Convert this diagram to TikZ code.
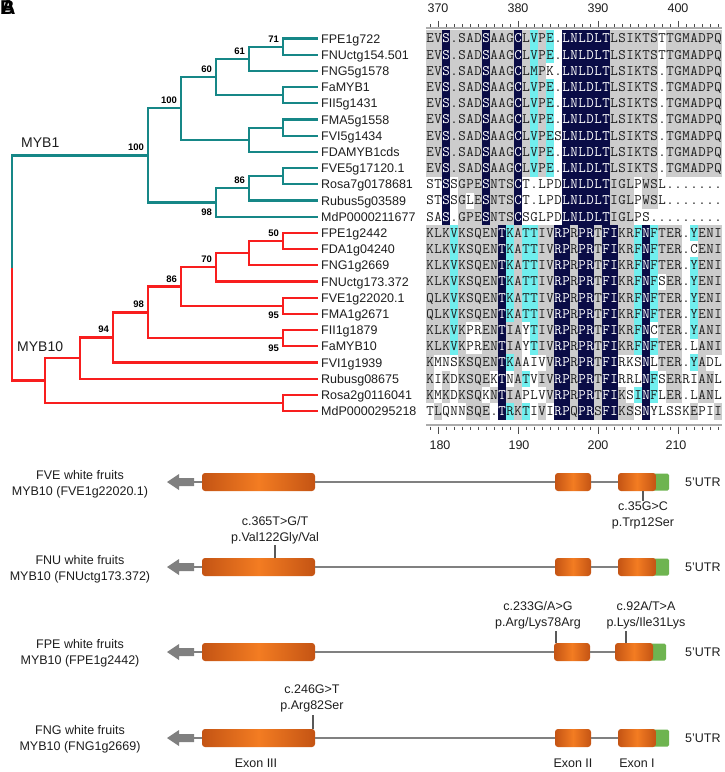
\documentclass[tikz,border=0pt]{standalone}
\usepackage{fontspec}
\setmainfont{Liberation Sans}
\definecolor{tealc}{RGB}{22,135,135}
\definecolor{redc}{RGB}{248,30,30}
\definecolor{navyc}{RGB}{10,12,70}
\definecolor{cyanc}{RGB}{112,238,238}
\definecolor{grayc}{RGB}{204,204,204}
\definecolor{exdark}{RGB}{196,84,20}
\definecolor{exmid}{RGB}{243,124,34}
\definecolor{utrc}{RGB}{110,180,80}
\definecolor{linec}{RGB}{128,128,128}
\definecolor{txtc}{RGB}{30,30,30}
\tikzset{
  cellg/.style={fill=grayc}, celln/.style={fill=navyc}, cellc/.style={fill=cyanc}, cellw/.style={},
  txtg/.style={text=txtc}, txtn/.style={text=white}, txtc/.style={text=txtc}, txtw/.style={text=txtc},
  alnfont/.style={font=\ttfamily\fontsize{14.5}{14.5}\selectfont},
  leaf/.style={anchor=west, inner xsep=3pt, inner ysep=0pt, text height=9pt, text depth=0pt,
    font=\fontsize{12.5}{12.5}\selectfont, text=txtc},
  bs/.style={font=\bfseries\fontsize{9.5}{9.5}\selectfont, inner sep=0.3pt, text height=6.8pt, text depth=0pt},
  tb/.style={draw=tealc, line width=2.2pt},
  rb/.style={draw=redc, line width=2.2pt},
  ruler/.style={draw=gray!65, line width=2pt},
  tick/.style={draw=black!70, line width=0.6pt},
  rnum/.style={font=\fontsize{12.5}{12.5}\selectfont, text=txtc, inner sep=0pt},
  exon/.style={rounded corners=3pt, left color=exdark, right color=exdark, middle color=exmid,
    minimum height=18pt, inner sep=0pt},
  utr/.style={fill=utrc, rounded corners=1.5pt, minimum height=17pt, minimum width=19pt, inner sep=0pt},
  intron/.style={draw=linec, line width=2pt},
  mut/.style={draw=black!65, line width=1.2pt},
  gtxt/.style={font=\fontsize{12.5}{16}\selectfont, align=center, text=txtc, inner sep=1pt},
  utrtxt/.style={font=\fontsize{12.5}{12.5}\selectfont, anchor=west, text=txtc, inner sep=0pt},
  panel/.style={font=\bfseries\fontsize{20}{20}\selectfont, anchor=north west, inner sep=0pt},
}
\newcommand\alncell[5]{%
  \path[cell#5] ({418+8*#3},{#2-8.1}) rectangle ++(8.3,16.5);%
  \node[txt#5, alnfont, anchor=base, inner sep=0pt] (s-#1-#3) at ({422+8*#3},{#2+4.4}) {#4};%
}
\ExplSyntaxOn
\NewDocumentCommand\alnrow{mmmm}
 {
  \int_step_inline:nn {37}
   {
    \use:e {\exp_not:N \alncell {#1} {#2} {##1} {\str_item:nn {#3} {##1}} {\str_item:nn {#4} {##1}}}
   }
 }
\ExplSyntaxOff
\begin{document}
\begin{tikzpicture}[x=1pt,y=-1pt]
\useasboundingbox (0,0) rectangle (725,772);
\fill[white] (0,0) rectangle (725,772);

% panel letters
\node[panel] (pA) at (1,0.5) {A};
\node[panel] (pB) at (0,0.5) {B};

% ---------------- alignment ----------------
\alnrow{r0}{38.5}{EVS.SADSAAGCLVPE.LNLDLTLSIKTSTTGMADPQ}{ggnggggngggngcgcwnnnnnnggggggwggggggg}
\alnrow{r1}{54.7}{EVS.SADSAAGCLVPE.LNLDLTLSIKTSTTGMADPQ}{ggnggggngggngcgcwnnnnnnggggggwggggggg}
\alnrow{r2}{70.9}{EVS.SADSAAGCLMPK.LNLDLTLSIKTS.TGMADPQ}{ggnggggngggngcgwwnnnnnnggggggwggggggg}
\alnrow{r3}{87.1}{EVS.SADSAAGCLVPE.LNLDLTLSIKTS.TGMADPQ}{ggnggggngggngcgcwnnnnnnggggggwggggggg}
\alnrow{r4}{103.3}{EVS.SADSAAGCLVPE.LNLDLTLSIKTS.TGMADPQ}{ggnggggngggngcgcwnnnnnnggggggwggggggg}
\alnrow{r5}{119.5}{EVS.SADSAAGCLVPE.LNLDLTLSIKTS.TGMADPQ}{ggnggggngggngcgcwnnnnnnggggggwggggggg}
\alnrow{r6}{135.7}{EVS.SADSAAGCLVPESLNLDLTLSIKTS.TGMADPQ}{ggnggggngggngcgcwnnnnnnggggggwggggggg}
\alnrow{r7}{151.9}{EVS.SADSAAGCLVPE.LNLDLTLSIKTS.TGMADPQ}{ggnggggngggngcgcwnnnnnnggggggwggggggg}
\alnrow{r8}{168.1}{EVS.SADSAAGCLVPE.LNLDLTLSIKTS.TGMADPQ}{ggnggggngggngcgcwnnnnnnggggggwggggggg}
\alnrow{r9}{184.3}{STSSGPESNTSCT.LPDLNLDLTIGLPWSL.......}{wwnwgggngggnwwwwwnnnnnngggwggwwwwwwww}
\alnrow{r10}{200.5}{STSSGLESNTSCT.LPDLNLDLTIGLPWSL.......}{wwnwgwgngggnwwwwwnnnnnngggwggwwwwwwww}
\alnrow{r11}{216.7}{SAS.GPESNTSCSGLPDLNLDLTIGLPS.........}{wwnwgggngggnwwwwwnnnnnngggwwwwwwwwwww}
\alnrow{r12}{232.9}{KLKVKSQENTKATTIVRPRPRTFIKRFNFTER.YENI}{gggcgggggncgccggnngnngnnggcncgggwcggg}
\alnrow{r13}{249.1}{KLKVKSQENTKATTIVRPRPRTFIKRFNFTER.CENI}{gggcgggggncgccggnngnngnnggcncgggwwggg}
\alnrow{r14}{265.3}{KLKVKSQENTKATTIVRPRPRTFIKRFNFTER.YENI}{gggcgggggncgccggnngnngnnggcncgggwcggg}
\alnrow{r15}{281.5}{KLKVKSQENTKATTIVRPRPRTFIKRFNFSER.YENI}{gggcgggggncgccggnngnngnnggcncwggwcggg}
\alnrow{r16}{297.7}{QLKVKSQENTKATTIVRPRPRTFIKRFNFTER.YENI}{gggcgggggncgccggnngnngnnggcncgggwcggg}
\alnrow{r17}{313.9}{QLKVKSQENTKATTIVRPRPRTFIKRFNFTER.YENI}{gggcgggggncgccggnngnngnnggcncgggwcggg}
\alnrow{r18}{330.1}{KLKVKPRENTIAYTIVRPRPRTFIKRFNCTER.YANI}{gggcgwwggnggwcggnngnngnnggcnwgggwcggg}
\alnrow{r19}{346.3}{KLKVKPRENTIAYTIVRPRPRTFIKRFNFTER.LANI}{gggcgwwggnggwcggnngnngnnggcncgggwwggg}
\alnrow{r20}{362.5}{KMNSKSQENTKAAIVVRPRPRTFIRKSNLTER.YADL}{gwwwgggggncgwwwgnngnngnnwwwnwgggwcgww}
\alnrow{r21}{378.7}{KIKDKSQEKTNATVIVRPRPRTFIRRLNFSERRIANL}{gwgwggggwnwgcwggnngnngnnwwwncwggwwggw}
\alnrow{r22}{394.9}{KMKDKSQKNTIAPLVVRPRPRTFIKSINFLER.LANL}{gwgwgggwgnggwwwgnngnngnngwcncwggwwggw}
\alnrow{r23}{411.1}{TLQNNSQE.TRKTIVIRPQPRSFIKSSNYLSSKEPII}{wgwwwgggwncgcwgwnngnngnnggwnwwwwwgwwg}

% rulers
\draw[ruler] (426,28) -- (722,28);
\draw[ruler] (426,425) -- (722,425);
\foreach \i in {0,...,36} {
  \draw[tick] ({430+8*\i},24) -- ({430+8*\i},26.8);
  \draw[tick] ({430+8*\i},426.5) -- ({430+8*\i},430);
}
\foreach \i in {1,11,21,31} {
  \draw[tick] ({430+8*\i},20.5) -- ({430+8*\i},26.8);
  \draw[tick] ({430+8*\i},426.5) -- ({430+8*\i},434);
}
\node[rnum] (t370) at (438,8) {370};
\node[rnum] (t380) at (518,8) {380};
\node[rnum] (t390) at (598,8) {390};
\node[rnum] (t400) at (678,8) {400};
\node[rnum] (b180) at (440,445) {180};
\node[rnum] (b190) at (519,445) {190};
\node[rnum] (b200) at (598,445) {200};
\node[rnum] (b210) at (676,445) {210};

% ---------------- tree ----------------
\node[leaf] (l0) at (318,38.5) {FPE1g722};
\node[leaf] (l1) at (318,54.7) {FNUctg154.501};
\node[leaf] (l2) at (318,70.9) {FNG5g1578};
\node[leaf] (l3) at (318,87.1) {FaMYB1};
\node[leaf] (l4) at (318,103.3) {FII5g1431};
\node[leaf] (l5) at (318,119.5) {FMA5g1558};
\node[leaf] (l6) at (318,135.7) {FVI5g1434};
\node[leaf] (l7) at (318,151.9) {FDAMYB1cds};
\node[leaf] (l8) at (318,168.1) {FVE5g17120.1};
\node[leaf] (l9) at (318,184.3) {Rosa7g0178681};
\node[leaf] (l10) at (318,200.5) {Rubus5g03589};
\node[leaf] (l11) at (318,216.7) {MdP0000211677};
\node[leaf] (l12) at (318,232.9) {FPE1g2442};
\node[leaf] (l13) at (318,249.1) {FDA1g04240};
\node[leaf] (l14) at (318,265.3) {FNG1g2669};
\node[leaf] (l15) at (318,281.5) {FNUctg173.372};
\node[leaf] (l16) at (318,297.7) {FVE1g22020.1};
\node[leaf] (l17) at (318,313.9) {FMA1g2671};
\node[leaf] (l18) at (318,330.1) {FII1g1879};
\node[leaf] (l19) at (318,346.3) {FaMYB10};
\node[leaf] (l20) at (318,362.5) {FVI1g1939};
\node[leaf] (l21) at (318,378.7) {Rubusg08675};
\node[leaf] (l22) at (318,394.9) {Rosa2g0116041};
\node[leaf] (l23) at (318,411.1) {MdP0000295218};

\coordinate (n71) at (283,46.6);
\coordinate (n61) at (249,58.75);
\coordinate (nA) at (283,95.2);
\coordinate (n60) at (216,76.98);
\coordinate (nB) at (283,127.6);
\coordinate (nC) at (249,139.75);
\coordinate (n100i) at (181,108.36);
\coordinate (nD) at (283,176.2);
\coordinate (n86a) at (249,188.35);
\coordinate (n98a) at (216,202.5);
\coordinate (n100o) at (148,155.4);
\coordinate (n50) at (283,241);
\coordinate (nE) at (249,253.15);
\coordinate (n70) at (216,267.3);
\coordinate (n95a) at (283,305.8);
\coordinate (n86b) at (181,286.55);
\coordinate (n95b) at (283,338.2);
\coordinate (n98b) at (148,312.4);
\coordinate (n94) at (113,337.45);
\coordinate (nF) at (80,358.1);
\coordinate (nG) at (283,403);
\coordinate (nH) at (45,380.55);
\coordinate (root) at (12,268);

% MYB1 (teal)
\draw[tb] (n71) |- (l0.west);  \draw[tb] (n71) |- (l1.west);
\draw[tb] (n61) |- (n71);      \draw[tb] (n61) |- (l2.west);
\draw[tb] (nA) |- (l3.west);   \draw[tb] (nA) |- (l4.west);
\draw[tb] (n60) |- (n61);      \draw[tb] (n60) |- (nA);
\draw[tb] (nB) |- (l5.west);   \draw[tb] (nB) |- (l6.west);
\draw[tb] (nC) |- (nB);        \draw[tb] (nC) |- (l7.west);
\draw[tb] (n100i) |- (n60);    \draw[tb] (n100i) |- (nC);
\draw[tb] (nD) |- (l8.west);   \draw[tb] (nD) |- (l9.west);
\draw[tb] (n86a) |- (nD);      \draw[tb] (n86a) |- (l10.west);
\draw[tb] (n98a) |- (n86a);    \draw[tb] (n98a) |- (l11.west);
\draw[tb] (n100o) |- (n100i);  \draw[tb] (n100o) |- (n98a);
\draw[tb] (root) |- (n100o);
% MYB10 (red)
\draw[rb] (n50) |- (l12.west); \draw[rb] (n50) |- (l13.west);
\draw[rb] (nE) |- (n50);       \draw[rb] (nE) |- (l14.west);
\draw[rb] (n70) |- (nE);       \draw[rb] (n70) |- (l15.west);
\draw[rb] (n95a) |- (l16.west);\draw[rb] (n95a) |- (l17.west);
\draw[rb] (n86b) |- (n70);     \draw[rb] (n86b) |- (n95a);
\draw[rb] (n95b) |- (l18.west);\draw[rb] (n95b) |- (l19.west);
\draw[rb] (n98b) |- (n86b);    \draw[rb] (n98b) |- (n95b);
\draw[rb] (n94) |- (n98b);     \draw[rb] (n94) |- (l20.west);
\draw[rb] (nF) |- (n94);       \draw[rb] (nF) |- (l21.west);
\draw[rb] (nG) |- (l22.west);  \draw[rb] (nG) |- (l23.west);
\draw[rb] (nH) |- (nF);        \draw[rb] (nH) |- (nG);
\draw[rb] (root) |- (nH);

% bootstrap values
\path (n71) ++(-3.5,-4) node[bs, anchor=south east] (b1) {71};
\path (n61) ++(-3.5,-4) node[bs, anchor=south east] (b2) {61};
\path (n60) ++(-3.5,-4) node[bs, anchor=south east] (b3) {60};
\path (n100i) ++(-3.5,-4) node[bs, anchor=south east] (b4) {100};
\path (n100o) ++(-3.5,-4) node[bs, anchor=south east] (b5) {100};
\path (n86a) ++(-3.5,-4) node[bs, anchor=south east] (b6) {86};
\path (n98a) ++(-3.5,5.5) node[bs, anchor=north east] (b7) {98};
\path (n50) ++(-3.5,-4) node[bs, anchor=south east] (b8) {50};
\path (n70) ++(-3.5,-4) node[bs, anchor=south east] (b9) {70};
\path (n86b) ++(-3.5,-4) node[bs, anchor=south east] (b10) {86};
\path (n95a) ++(-3.5,5.5) node[bs, anchor=north east] (b11) {95};
\path (n98b) ++(-3.5,-4) node[bs, anchor=south east] (b12) {98};
\path (n95b) ++(-3.5,5.5) node[bs, anchor=north east] (b13) {95};
\path (n94) ++(-3.5,-4) node[bs, anchor=south east] (b14) {94};

\node[font=\fontsize{14}{14}\selectfont, anchor=west, inner sep=0pt, text=txtc] (myb1) at (21,143) {MYB1};
\node[font=\fontsize{14}{14}\selectfont, anchor=west, inner sep=0pt, text=txtc] (myb10) at (17,347) {MYB10};

% ---------------- gene structures ----------------
% row 1
\fill[linec] (167,482) -- (179,474) -- (179,478) -- (194,478) -- (194,486) -- (179,486) -- (179,490) -- cycle;
\coordinate (ar1) at (193,482);
\node[exon, minimum width=113pt] (e3a) at (258.5,482) {};
\node[exon, minimum width=36pt] (e2a) at (573,482) {};
\node[utr] (ua) at (659.5,482) {};
\node[exon, minimum width=38pt] (e1a) at (637,482) {};
\draw[intron] (ar1) -- (e3a.west);
\draw[intron] (e3a.east) -- (e2a.west);
\draw[intron] (e2a.east) -- (e1a.west);
\node[utrtxt] (u1) at (685,482) {5'UTR};
\node[gtxt] (g1) at (80,484.5) {FVE white fruits\\MYB10 (FVE1g22020.1)};
\node[gtxt, anchor=north] (m1) at (643,501) {c.35G>C\\p.Trp12Ser};
\draw[mut] (m1.north) -- (m1.north |- e1a.south);

% row 2
\fill[linec] (167,567) -- (179,559) -- (179,563) -- (194,563) -- (194,571) -- (179,571) -- (179,575) -- cycle;
\coordinate (ar2) at (193,567);
\node[exon, minimum width=113pt] (e3b) at (258.5,567) {};
\node[exon, minimum width=36pt] (e2b) at (573,567) {};
\node[utr] (ub) at (659.5,567) {};
\node[exon, minimum width=38pt] (e1b) at (637,567) {};
\draw[intron] (ar2) -- (e3b.west);
\draw[intron] (e3b.east) -- (e2b.west);
\draw[intron] (e2b.east) -- (e1b.west);
\node[utrtxt] (u2) at (685,567) {5'UTR};
\node[gtxt] (g2) at (80,569) {FNU white fruits\\MYB10 (FNUctg173.372)};
\node[gtxt, anchor=south] (m2) at (275,545) {c.365T>G/T\\p.Val122Gly/Val};
\draw[mut] (m2.south) -- (m2.south |- e3b.north);

% row 3
\fill[linec] (167,652) -- (179,644) -- (179,648) -- (194,648) -- (194,656) -- (179,656) -- (179,660) -- cycle;
\coordinate (ar3) at (193,652);
\node[exon, minimum width=113pt] (e3c) at (258.5,652) {};
\node[exon, minimum width=36pt] (e2c) at (572,652) {};
\node[utr] (uc) at (656.5,652) {};
\node[exon, minimum width=38pt] (e1c) at (634,652) {};
\draw[intron] (ar3) -- (e3c.west);
\draw[intron] (e3c.east) -- (e2c.west);
\draw[intron] (e2c.east) -- (e1c.west);
\node[utrtxt] (u3) at (685,652) {5'UTR};
\node[gtxt] (g3) at (80,653.5) {FPE white fruits\\MYB10 (FPE1g2442)};
\node[gtxt, anchor=south] (m3) at (538,630) {c.233G/A>G\\p.Arg/Lys78Arg};
\node[gtxt, anchor=south] (m4) at (646,630) {c.92A/T>A\\p.Lys/Ile31Lys};
\coordinate (k3) at (556,631);
\coordinate (k4) at (626,631);
\draw[mut] (k3) -- (k3 |- e2c.north);
\draw[mut] (k4) -- (k4 |- e1c.north);

% row 4
\fill[linec] (167,738) -- (179,730) -- (179,734) -- (194,734) -- (194,742) -- (179,742) -- (179,746) -- cycle;
\coordinate (ar4) at (193,738);
\node[exon, minimum width=113pt] (e3d) at (258.5,738) {};
\node[exon, minimum width=36pt] (e2d) at (573,738) {};
\node[utr] (ud) at (659.5,738) {};
\node[exon, minimum width=38pt] (e1d) at (637,738) {};
\draw[intron] (ar4) -- (e3d.west);
\draw[intron] (e3d.east) -- (e2d.west);
\draw[intron] (e2d.east) -- (e1d.west);
\node[utrtxt] (u4) at (685,738) {5'UTR};
\node[gtxt] (g4) at (80,739.5) {FNG white fruits\\MYB10 (FNG1g2669)};
\node[gtxt, anchor=south] (m5) at (312,713) {c.246G>T\\p.Arg82Ser};
\coordinate (k5) at (313,715);
\draw[mut] (k5) -- (k5 |- e3d.north);

\node[gtxt] (x3) at (256,763) {Exon III};
\node[gtxt] (x2) at (573,763) {Exon II};
\node[gtxt] (x1) at (637,763) {Exon I};
\end{tikzpicture}
\end{document}
